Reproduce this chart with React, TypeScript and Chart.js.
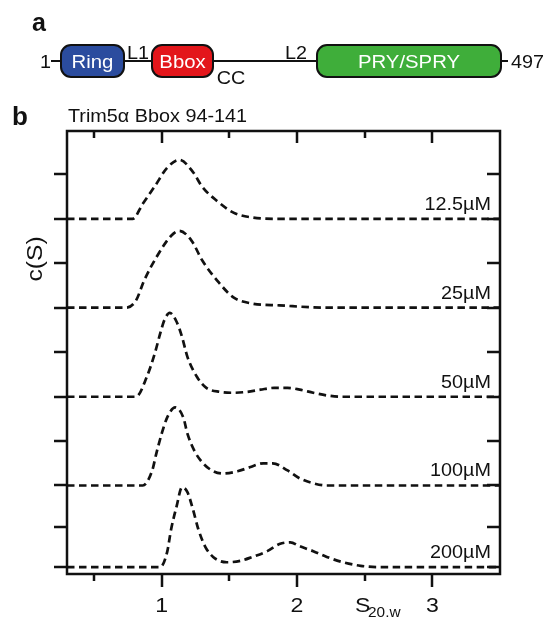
import React, { useEffect, useRef } from "react";
import { Chart, registerables } from "chart.js";
Chart.register(...registerables);

// ---- data ----
const concentrations = ["12.5µM", "25µM", "50µM", "100µM", "200µM"];
const baselines = [7.85, 5.85, 3.84, 1.84, 0];
const yTicks = [0, 0.9, 1.84, 2.84, 3.84, 4.84, 5.85, 6.85, 7.85, 8.85];
const xMajorTicks = [1, 2, 3];
const xMinorTicks = [0.5, 1.5, 2.5];

const s125X = [0.3, 0.785, 0.86, 0.95, 1.04, 1.13, 1.23, 1.3, 1.41, 1.53, 1.67, 1.87, 3.5];
const s125C = [0, 0, 0.34, 0.74, 1.15, 1.33, 1.06, 0.72, 0.4, 0.14, 0.03, 0, 0];

const s25X = [0.3, 0.74, 0.81, 0.87, 0.96, 1.07, 1.13, 1.22, 1.3, 1.41, 1.53, 1.67, 1.87, 2.2, 3.5];
const s25C = [0, 0, 0.16, 0.61, 1.13, 1.62, 1.73, 1.51, 1.06, 0.61, 0.23, 0.09, 0.05, 0, 0];

const s50X = [0.3, 0.81, 0.89, 0.95, 0.99, 1.02, 1.06, 1.11, 1.15, 1.19, 1.26, 1.33, 1.43, 1.53, 1.63, 1.73, 1.83, 1.93, 2.02, 2.12, 2.22, 2.33, 3.5];
const s50C = [0, 0, 0.45, 0.99, 1.44, 1.73, 1.89, 1.69, 1.35, 0.9, 0.45, 0.2, 0.11, 0.09, 0.11, 0.16, 0.2, 0.2, 0.16, 0.09, 0.03, 0, 0];

const s100X = [0.3, 0.86, 0.93, 0.96, 1.0, 1.04, 1.1, 1.16, 1.19, 1.24, 1.3, 1.37, 1.45, 1.56, 1.65, 1.75, 1.82, 1.93, 2.02, 2.12, 2.22, 3.5];
const s100C = [0, 0, 0.34, 0.72, 1.17, 1.53, 1.76, 1.53, 1.17, 0.79, 0.52, 0.34, 0.27, 0.32, 0.41, 0.5, 0.5, 0.34, 0.16, 0.05, 0, 0];

const s200X = [0.3, 0.99, 1.04, 1.07, 1.11, 1.15, 1.19, 1.23, 1.27, 1.32, 1.38, 1.48, 1.58, 1.67, 1.78, 1.87, 1.95, 2.02, 2.12, 2.22, 2.34, 2.47, 2.6, 3.5];
const s200C = [0, 0, 0.34, 0.86, 1.37, 1.8, 1.69, 1.31, 0.86, 0.47, 0.23, 0.11, 0.14, 0.23, 0.36, 0.52, 0.56, 0.47, 0.36, 0.23, 0.11, 0.03, 0, 0];

const seriesX = [s125X, s25X, s50X, s100X, s200X];
const seriesC = [s125C, s25C, s50C, s100C, s200C];

const FONT = "'Liberation Sans', Arial, sans-serif";

function txt(ctx: CanvasRenderingContext2D, s: string, x: number, y: number, font: string, align: CanvasTextAlign = "left", color = "#111", sx = 1.1) {
  ctx.save();
  ctx.translate(x, y);
  ctx.scale(sx, 1);
  ctx.font = font;
  ctx.fillStyle = color;
  ctx.textAlign = align;
  ctx.textBaseline = "alphabetic";
  ctx.fillText(s, 0, 0);
  ctx.restore();
}

function box(ctx: CanvasRenderingContext2D, x: number, y: number, w: number, h: number, fill: string) {
  ctx.save();
  ctx.beginPath();
  (ctx as any).roundRect(x, y, w, h, 10);
  ctx.fillStyle = fill;
  ctx.fill();
  ctx.lineWidth = 2;
  ctx.strokeStyle = "#111";
  ctx.stroke();
  ctx.restore();
}

const decorPlugin = {
  id: "decor",
  afterDraw(chart: any) {
    const ctx: CanvasRenderingContext2D = chart.ctx;
    const { left, right, top, bottom } = chart.chartArea;
    const xs = chart.scales.x;
    const ys = chart.scales.y;
    ctx.save();
    ctx.strokeStyle = "#111";
    ctx.lineWidth = 2.5;
    ctx.lineCap = "butt";
    ctx.strokeRect(left, top, right - left, bottom - top);
    ctx.beginPath();
    for (const v of yTicks) {
      const p = Math.round(ys.getPixelForValue(v));
      ctx.moveTo(left - 13, p);
      ctx.lineTo(left, p);
      ctx.moveTo(right - 13, p);
      ctx.lineTo(right, p);
    }
    for (const v of xMajorTicks) {
      const p = Math.round(xs.getPixelForValue(v));
      ctx.moveTo(p, bottom);
      ctx.lineTo(p, bottom + 13);
      ctx.moveTo(p, top);
      ctx.lineTo(p, top + 12);
    }
    for (const v of xMinorTicks) {
      const p = Math.round(xs.getPixelForValue(v));
      ctx.moveTo(p, bottom);
      ctx.lineTo(p, bottom + 7);
      ctx.moveTo(p, top);
      ctx.lineTo(p, top + 7);
    }
    ctx.stroke();
    ctx.restore();

    for (const v of xMajorTicks) {
      txt(ctx, String(v), xs.getPixelForValue(v), 612, `21px ${FONT}`, "center");
    }
    txt(ctx, "S", 355, 612, `21px ${FONT}`, "left");
    txt(ctx, "20.w", 368, 617, `14px ${FONT}`, "left");

    ctx.save();
    ctx.translate(42, 259);
    ctx.rotate(-Math.PI / 2);
    txt(ctx, "c(S)", 0, 0, `22px ${FONT}`, "center", "#111", 1.12);
    ctx.restore();

    concentrations.forEach((c, i) => {
      txt(ctx, c, 491, ys.getPixelForValue(baselines[i]) - 9, `18px ${FONT}`, "right");
    });

    // panel labels
    txt(ctx, "b", 12, 125, `bold 26px ${FONT}`, "left", "#111", 1.0);
    txt(ctx, "Trim5α Bbox 94-141", 68, 122, `18px ${FONT}`, "left");
    txt(ctx, "a", 32, 31, `bold 25px ${FONT}`, "left", "#111", 1.0);

    // panel a domain diagram
    ctx.save();
    ctx.strokeStyle = "#111";
    ctx.lineWidth = 2;
    ctx.beginPath();
    ctx.moveTo(51, 61);
    ctx.lineTo(508, 61);
    ctx.stroke();
    ctx.restore();
    box(ctx, 61, 45, 63, 32, "#2B4C9E");
    box(ctx, 152, 45, 61, 32, "#E3161B");
    box(ctx, 317, 45, 184, 32, "#3FAE3A");
    txt(ctx, "Ring", 92.5, 68, `18.5px ${FONT}`, "center", "#fff");
    txt(ctx, "Bbox", 182.5, 68, `18.5px ${FONT}`, "center", "#fff");
    txt(ctx, "PRY/SPRY", 409, 68, `18.5px ${FONT}`, "center", "#fff");
    txt(ctx, "1", 51, 68, `18px ${FONT}`, "right");
    txt(ctx, "497", 511, 68, `18px ${FONT}`, "left");
    txt(ctx, "L1", 138, 59, `18px ${FONT}`, "center");
    txt(ctx, "L2", 296, 59, `18px ${FONT}`, "center");
    txt(ctx, "CC", 231, 84, `18px ${FONT}`, "center");
  },
};

export default function App() {
  const ref = useRef<HTMLCanvasElement>(null);
  useEffect(() => {
    document.body.style.margin = "0";
    const datasets = seriesX.map((xsArr, i) => ({
      label: concentrations[i],
      data: xsArr.map((x, j) => ({ x, y: seriesC[i][j] + baselines[i] })),
      borderColor: "#111",
      borderWidth: 2.7,
      borderDash: [7.5, 4.5],
      pointRadius: 0,
      cubicInterpolationMode: "monotone" as const,
      fill: false,
    }));
    const chart = new Chart(ref.current!, {
      type: "line",
      data: { datasets },
      options: {
        animation: false,
        responsive: false,
        devicePixelRatio: 1,
        layout: { padding: { left: 67, top: 131, right: 46, bottom: 43 } },
        scales: {
          x: { type: "linear", min: 0.3, max: 3.5, display: false },
          y: { type: "linear", min: -0.155, max: 9.83, display: false },
        },
        plugins: { legend: { display: false }, tooltip: { enabled: false } },
      },
      plugins: [decorPlugin],
    });
    return () => chart.destroy();
  }, []);
  return (
    <div style={{ width: 546, height: 617, background: "#fff" }}>
      <canvas ref={ref} width={546} height={617} />
    </div>
  );
}
